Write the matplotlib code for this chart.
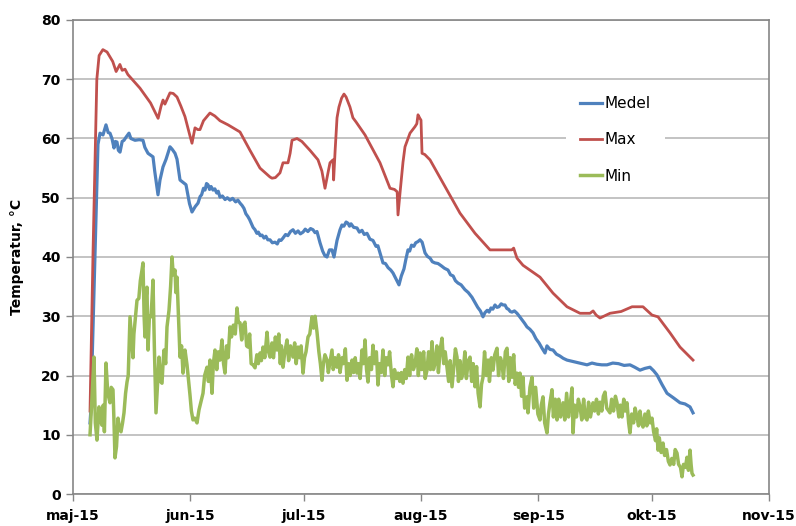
import numpy as np
import pandas as pd
import matplotlib
matplotlib.use('Agg')
import matplotlib.pyplot as plt
import matplotlib.dates as mdates
from matplotlib.ticker import FuncFormatter

# dagar efter 2015-05-01 och temperatur (°C)
max_dag = [4.5, 5.3, 6.3, 6.9, 7.9, 9.0, 10.5, 11.4, 12.4, 13.0, 13.75, 14.5, 17.7, 20.5, 22.5,
           23.3, 23.8, 24.3, 25.64, 26.5, 27.5, 28.5, 29.6, 30.9, 31.46, 32.25, 33.0, 33.57, 34.5,
           36.2, 37.5, 38.86, 41.0, 44.15, 46.79, 49.44, 52.08, 52.61, 53.5, 54.72, 55.52, 56.84,
           57.4, 57.9, 59.22, 60.5, 62.66, 64.77, 65.8, 66.62, 67.5, 67.94, 68.74, 68.9, 69.3,
           69.8, 70.3, 71.0, 71.64, 72.2, 73.23, 74.0, 74.82, 77.2, 81.16, 83.81, 85.0, 85.7,
           85.92, 86.45, 87.24, 87.77, 89.09, 90.41, 90.9, 91.21, 91.7, 92.0, 92.27, 93.0, 94.38,
           98.87, 102.31, 106.28, 110.24, 112.89, 116.0, 116.5, 116.85, 117.38, 118.97, 123.46,
           126.9, 130.6, 134.04, 136.68, 137.5, 138.3, 139.32, 141.97, 144.9, 147.8, 150.69,
           153.07, 154.66, 157.83, 160.47, 163.91]
max_temp = [14, 41, 70, 74, 75, 74.6, 73, 71.3, 72.5, 71.5, 71.7, 70.8, 68.5, 66, 63.4,
            65.5, 66.5, 65.8, 67.7, 67.6, 67, 65.5, 63.7, 60.5, 59.2, 61.8, 61.5, 61.5, 63,
            64.3, 63.8, 63, 62.3, 61.1, 58, 55, 53.5, 53.3, 53.4, 54.2, 55.9, 55.9,
            57.5, 59.7, 60, 59.5, 58, 56.4, 54.5, 51.6, 54.5, 55.9, 56.4, 53, 58,
            63.5, 65.3, 66.8, 67.5, 67, 65.3, 63.5, 62.8, 60.6, 55.9, 51.6, 51.4, 51.0,
            47.1, 50.8, 56, 58.6, 60.9, 62, 62.5, 64, 63.4, 63.1, 57.5, 57.3, 56.4,
            51.3, 47.4, 44, 41.2, 41.2, 41.2, 41.5, 40.8, 39.8, 38.6, 36.6,
            33.9, 31.6, 30.5, 30.5, 30.9, 30.2, 29.7, 30.5, 30.8, 31.6, 31.6,
            30.2, 29.9, 27.2, 24.8, 22.6]

medel_dag = [4.5, 4.7, 6.6, 7.14, 7.93, 8.72, 9.3, 9.78, 10.3, 10.84, 11.2, 11.63, 12.0, 12.43,
             13.0, 13.48, 14.0, 14.8, 15.3, 16.39, 17.5, 18.5, 19.0, 19.83, 21.15, 21.6, 22.47,
             23.0, 23.79, 24.6, 25.64, 26.2, 26.97, 27.5, 28.29, 29.87, 30.8, 31.46, 32.3,
             33.05, 33.6, 34.0, 34.5, 34.9, 35.3, 35.69, 36.1, 36.5, 37.01, 37.5, 38.0, 38.4,
             38.86, 39.5, 40.2, 40.8, 41.5, 42.2, 43.0, 43.6, 44.15, 44.7, 45.2, 45.7, 46.26,
             46.7, 47.2, 47.6, 48.12, 48.6, 49.0, 49.5, 49.97, 50.5, 51.0, 51.5, 52.08, 52.7,
             53.4, 54.0, 54.5, 55.0, 55.52, 56.2, 56.8, 57.5, 58.16, 58.8, 59.5, 60.1, 60.81,
             61.4, 62.1, 62.8, 63.45, 64.0, 64.5, 65.3, 66.0, 66.6, 67.15, 67.8, 68.47, 69.0,
             69.8, 70.59, 71.1, 71.6, 72.2, 72.7, 73.1, 73.5, 74.2, 75.08, 75.7, 76.4, 77.0,
             77.72, 78.5, 79.3, 80.1, 80.6, 81.16, 81.95, 82.6, 83.3, 84.0, 84.6, 85.4, 86.18,
             86.8, 87.5, 88.0, 88.56, 89.0, 89.5, 90.1, 90.6, 91.2, 91.74, 92.3, 93.06, 93.7,
             94.4, 95.0, 95.7, 96.5, 97.4, 98.2, 99.14, 99.8, 100.5, 101.1, 101.78, 102.6,
             103.6, 104.5, 105.48, 106.2, 107.0, 107.7, 108.39, 108.9, 109.5, 110.0, 110.5,
             111.0, 111.56, 112.1, 112.6, 113.2, 113.68, 114.21, 114.7, 115.1, 115.6, 116.06,
             116.7, 117.38, 118.0, 118.7, 119.4, 120.02, 120.8, 121.61, 122.4, 123.2, 124.0,
             124.78, 125.3, 126.1, 126.9, 127.8, 128.7, 129.6, 130.6, 131.9, 133.2, 134.5,
             135.89, 137.2, 138.5, 139.8, 141.17, 142.7, 144.2, 145.7, 147.25, 148.5, 149.9,
             151.2, 152.54, 153.5, 154.39, 155.7, 157.04, 158.8, 160.47, 161.8, 163.12, 163.91]
medel_temp = [12, 14, 59, 60.9, 60.6, 62.3, 61, 60.9, 60, 58.4, 59.5, 59.4, 58, 57.7,
              59.5, 59.7, 60.2, 60.9, 60, 59.7, 59.8, 59.7, 58.5, 57.5, 56.9, 54.5, 50.5,
              53, 55.2, 56.5, 58.6, 58.2, 57.5, 56.5, 53, 52.2, 49, 47.6, 48.5,
              49.1, 50.2, 50.5, 51.6, 51.3, 52.4, 52.2, 51.4, 51.9, 51.3, 51.5, 50.8, 51.1,
              50.1, 50.3, 49.7, 50.0, 49.6, 49.9, 49.3, 49.6, 49.1, 48.7, 48.2, 47.3, 46.8,
              46.3, 45.6, 45.0, 44.6, 44.0, 44.2, 43.6, 43.7, 43.2, 43.5, 42.9, 42.9, 42.4,
              42.5, 42.2, 42.9, 42.8, 43.2, 43.8, 43.6, 44.3, 44.6, 44.0, 44.4, 43.9, 44.2,
              44.7, 44.3, 44.8, 44.6, 44.1, 44.3, 42.4, 41, 40.2, 40, 41.2, 41.2, 40,
              42.8, 44.6, 45.4, 45.2, 45.9, 45.7, 45.2, 45.6, 45.0, 44.9, 44.2, 44.5, 43.8,
              44, 43.0, 42.8, 41.8, 41.9, 40.7, 39, 38.9, 38.2, 37.8, 37.3, 36.3, 35.3,
              36.8, 38, 39.6, 41.2, 41.0, 42, 41.8, 42.4, 42.6, 42.9, 42.5, 40.7, 40.1,
              39.8, 39.2, 39, 38.9, 38.5, 38.1, 37.8, 37.0, 36.8, 36.0, 35.6, 35.3,
              34.5, 34.0, 33.2, 32.4, 31.5, 30.9, 29.9, 30.6, 31, 30.7, 31.4,
              31.2, 31.9, 31.5, 31.6, 32.1, 31.9, 31.9, 31.3, 31.2, 30.8, 30.7,
              30.9, 30.5, 30.0, 29.4, 28.8, 28.2, 27.8, 27.2, 26.2, 25.5, 24.6,
              23.8, 25, 24.4, 24.3, 23.6, 23.3, 22.9, 22.6, 22.4, 22.2, 22.0,
              21.8, 22.1, 21.9, 21.8, 21.8, 22.1, 22.0, 21.7, 21.8, 21.4, 20.9,
              21.2, 21.4, 20.8, 20.1, 18.5, 17, 16.2, 15.4, 15.2, 14.7, 13.7]

min_dag = [4.5, 5.0, 5.55, 5.9, 6.34, 6.87, 7.2, 7.67, 8.0, 8.3, 8.72, 9.2, 9.78, 10.1, 10.57,
           10.8, 11.1, 11.5, 11.9, 12.3, 12.69, 13.1, 13.48, 13.9, 14.28, 14.6, 15.07, 15.4,
           15.86, 16.1, 16.39, 16.92, 17.4, 17.8, 18.24, 18.5, 18.8, 19.03, 19.3, 19.56, 19.83,
           20.2, 20.62, 20.9, 21.15, 21.5, 21.94, 22.3, 22.74, 23.1, 23.53, 23.8, 24.06, 24.5,
           24.85, 25.38, 25.8, 26.17, 26.5, 26.97, 27.2, 27.49, 28.02, 28.29, 28.7, 29.08, 29.61,
           30.14, 30.5, 30.93, 31.3, 31.72, 32.2, 32.78, 33.31, 33.8, 34.37, 34.8, 35.43, 35.8,
           36.22, 36.75, 37.1, 37.54, 38.0, 38.4, 38.86, 39.39, 39.8, 40.18, 40.6, 41.0, 41.5,
           41.9, 42.4, 42.9, 43.36, 43.7, 44.15, 44.6, 45.0, 45.47, 45.9, 46.26, 46.7, 47.1,
           47.59, 48.12, 48.6, 49.0, 49.44, 49.8, 50.23, 50.7, 51.29, 51.7, 52.08, 52.6, 53.0,
           53.5, 53.93, 54.4, 54.8, 55.1, 55.52, 56.0, 56.58, 57.0, 57.5, 58.16, 58.6, 59.0,
           59.48, 59.9, 60.3, 60.81, 61.2, 61.6, 62.13, 62.6, 63.18, 63.6, 64.0, 64.51, 65.0,
           65.4, 65.83, 66.2, 66.6, 67.15, 67.5, 68.0, 68.47, 68.8, 69.3, 69.79, 70.2, 70.6,
           71.12, 71.5, 72.0, 72.44, 72.9, 73.3, 73.76, 74.2, 74.6, 75.08, 75.5, 75.9, 76.4,
           76.8, 77.2, 77.6, 77.99, 78.4, 78.9, 79.31, 79.7, 80.2, 80.63, 81.0, 81.5, 81.95,
           82.4, 82.8, 83.28, 83.7, 84.2, 84.6, 85.0, 85.5, 85.92, 86.4, 86.8, 87.24, 87.7,
           88.1, 88.56, 89.0, 89.5, 90.0, 90.41, 90.9, 91.3, 91.74, 92.2, 92.7, 93.1, 93.59,
           94.0, 94.5, 94.91, 95.3, 95.7, 96.2, 96.6, 97.1, 97.55, 98.0, 98.4, 98.87, 99.3,
           99.7, 100.2, 100.6, 101.1, 101.52, 101.9, 102.3, 102.7, 103.1, 103.6, 104.0, 104.5,
           104.96, 105.4, 105.8, 106.28, 106.7, 107.1, 107.6, 108.0, 108.39, 108.8, 109.3,
           109.71, 110.1, 110.6, 111.04, 111.5, 112.09, 112.5, 113.0, 113.41, 113.8, 114.3,
           114.74, 115.2, 115.6, 116.06, 116.5, 116.9, 117.38, 117.8, 118.17, 118.6, 118.97,
           119.4, 120.02, 120.29, 120.8, 121.35, 121.8, 122.3, 122.9, 123.46, 123.8, 124.25,
           124.7, 125.31, 125.7, 126.1, 126.63, 127.0, 127.5, 127.96, 128.4, 128.9, 129.54,
           130.0, 130.5, 131.0, 131.5, 131.92, 132.19, 132.6, 133.1, 133.6, 134.04, 134.5,
           135.0, 135.4, 135.89, 136.3, 136.8, 137.47, 137.9, 138.4, 138.9, 139.32, 139.8,
           140.2, 140.64, 141.1, 141.97, 142.4, 142.9, 143.4, 143.82, 144.3, 144.7, 145.14,
           145.6, 146.0, 146.46, 146.9, 147.25, 147.7, 148.2, 148.6, 149.1, 149.5, 149.9, 150.3,
           150.69, 151.2, 151.7, 152.1, 152.6, 153.07, 153.5, 154.0, 154.3, 154.66, 155.0,
           155.5, 155.98, 156.4, 156.9, 157.4, 157.83, 158.3, 158.8, 159.2, 159.68, 160.1,
           160.6, 161.0, 161.4, 161.9, 162.32, 162.7, 163.12, 163.4, 163.64, 163.91]
min_temp = [10, 16, 23.1, 12, 9.1, 14.7, 12.5, 11.6, 15, 10.5, 22.1, 17, 15.4, 18, 17.6,
            13, 6.1, 8, 12.8, 11, 10.5, 12, 13.7, 17, 18.9, 20, 29.9, 27,
            23, 27, 29, 32.7, 33, 36, 37.8, 39, 30, 26.5, 33, 34.9, 24.3,
            30, 29.9, 33, 36.1, 25, 13.7, 18, 23.1, 19, 18.7, 22, 24.3, 22,
            28.2, 31, 35, 40, 37, 37.8, 34, 36.6, 27.7, 23.1, 25, 20.4, 24.3,
            21.8, 19.5, 16.7, 14, 12.5, 12.8, 12, 14.2, 15.5, 17, 20, 21.4, 19,
            22.6, 17, 22, 24.3, 21, 24, 22.6, 26, 22, 20.4, 25, 23, 28.2,
            26.5, 28.5, 27, 31.4, 29, 28.9, 26, 28.5, 29, 25, 24.8, 27, 22,
            21.8, 21.3, 23.5, 22, 23.8, 22.5, 24.8, 23, 27.3, 24, 23.1, 25.5, 23,
            26.5, 24.3, 27, 22, 25, 21.4, 24, 26, 22.5, 25, 23.1, 25.5, 22,
            24.8, 23, 25, 20.4, 23, 24, 26.5, 27, 29.9, 28, 30, 27.3, 24,
            22, 19.2, 22, 23.5, 22.6, 20.5, 22.5, 24.3, 21, 23, 21.4, 23.5, 20.5,
            23, 22, 24.5, 19.2, 22, 20, 22.6, 20.5, 23, 20.4, 22, 19.5, 24.3,
            22, 26, 21, 18.9, 23, 21, 25.1, 22, 24, 18.4, 22, 20.5, 24.3,
            20, 23, 21.8, 24, 20, 18.1, 21, 19.5, 20.4, 19, 20.5, 18.7, 21,
            19.5, 23.1, 20, 23.5, 21, 21.8, 24.5, 20, 23.8, 21, 24, 19.5, 20.9,
            24, 21, 25.7, 21, 22.1, 25, 20.5, 24.5, 26.3, 22, 24, 21.4, 19,
            22.5, 18.1, 21, 24.5, 23.1, 19, 22.5, 19.5, 20.4, 24, 19.5, 22.5,
            23.1, 19, 22, 18.1, 21.5, 17, 14.7, 18.5, 19.7, 24, 20,
            22.6, 19, 23, 20.9, 23.5, 24.6, 20, 23, 22.1, 19.5, 24,
            24.6, 19, 23, 19.7, 23.5, 18.5, 20.4, 18, 20.4, 16.5, 19.7,
            14.5, 16.4, 13.7, 18, 19.7, 14.5, 18, 13.5, 12.5, 15, 16.4,
            12, 10.3, 13.5, 15.4, 17.6, 13, 16, 12.5, 16, 13, 15.4,
            12.5, 17, 13, 15.5, 17.9, 10.3, 15, 13, 16, 14.7, 12.5,
            16, 13, 12.5, 15.5, 13, 15.4, 14, 16, 13.5, 15.5, 14,
            16.5, 17.2, 14.5, 13.7, 16, 14, 16.5, 15.4, 13, 15, 13,
            16, 14, 15.4, 12, 10.3, 13.5, 12, 14.5, 13, 11.5, 14, 12,
            11.3, 13.5, 11.5, 14, 12, 12.8, 10.5, 9, 11, 7.4, 9.5,
            7, 8.6, 6.5, 7.5, 5.5, 4.9, 6, 5, 7.5, 6.9, 5,
            4.5, 2.9, 5, 4.5, 6.2, 4, 7.4, 5, 3.5, 3.2]

start = pd.Timestamp('2015-05-01')
manader = {5: 'maj', 6: 'jun', 7: 'jul', 8: 'aug', 9: 'sep', 10: 'okt', 11: 'nov'}


def till_datum(dagar):
    return start + pd.to_timedelta(np.array(dagar), unit='D')


plt.rcParams['font.family'] = ['DejaVu Sans']

fig = plt.figure(figsize=(7.96, 5.26), dpi=100)
ax = fig.add_axes([73 / 796, 32 / 526, 696 / 796, 474 / 526])

ax.plot(till_datum(medel_dag), medel_temp, color='#4F81BD', lw=2.3, label='Medel')
ax.plot(till_datum(max_dag), max_temp, color='#C0504D', lw=2.0, label='Max')
ax.plot(till_datum(min_dag), min_temp, color='#9BBB59', lw=2.5, label='Min')

ax.set_ylim(0, 80)
ax.set_yticks(range(0, 81, 10))
ax.set_xlim(pd.Timestamp('2015-05-01'), pd.Timestamp('2015-11-01'))
ax.xaxis.set_major_locator(mdates.MonthLocator())
ax.xaxis.set_major_formatter(FuncFormatter(
    lambda v, pos: f"{manader[mdates.num2date(v).month]}-15"))

ax.grid(axis='y', color='#BEBEBE', lw=1.3)
ax.set_axisbelow(True)
for s in ax.spines.values():
    s.set_color('#868686')
    s.set_linewidth(1.2)

ax.tick_params(axis='both', direction='out', length=5, width=1, color='#868686',
               labelsize=10, pad=4)
for lab in ax.get_xticklabels() + ax.get_yticklabels():
    lab.set_fontweight('bold')
ax.tick_params(axis='x', pad=6)

ax.set_ylabel('Temperatur, °C', fontsize=10, fontweight='bold')
ax.yaxis.set_label_coords(-0.070, 0.5)

leg = ax.legend(loc='center', bbox_to_anchor=(0.779, 0.747), frameon=True,
                fontsize=11, handlelength=1.5, handletextpad=0.15,
                labelspacing=1.38, borderpad=0.9)
leg.get_frame().set_facecolor('white')
leg.get_frame().set_edgecolor('none')
leg.get_frame().set_alpha(1)

fig.savefig('out.png', dpi=100)
